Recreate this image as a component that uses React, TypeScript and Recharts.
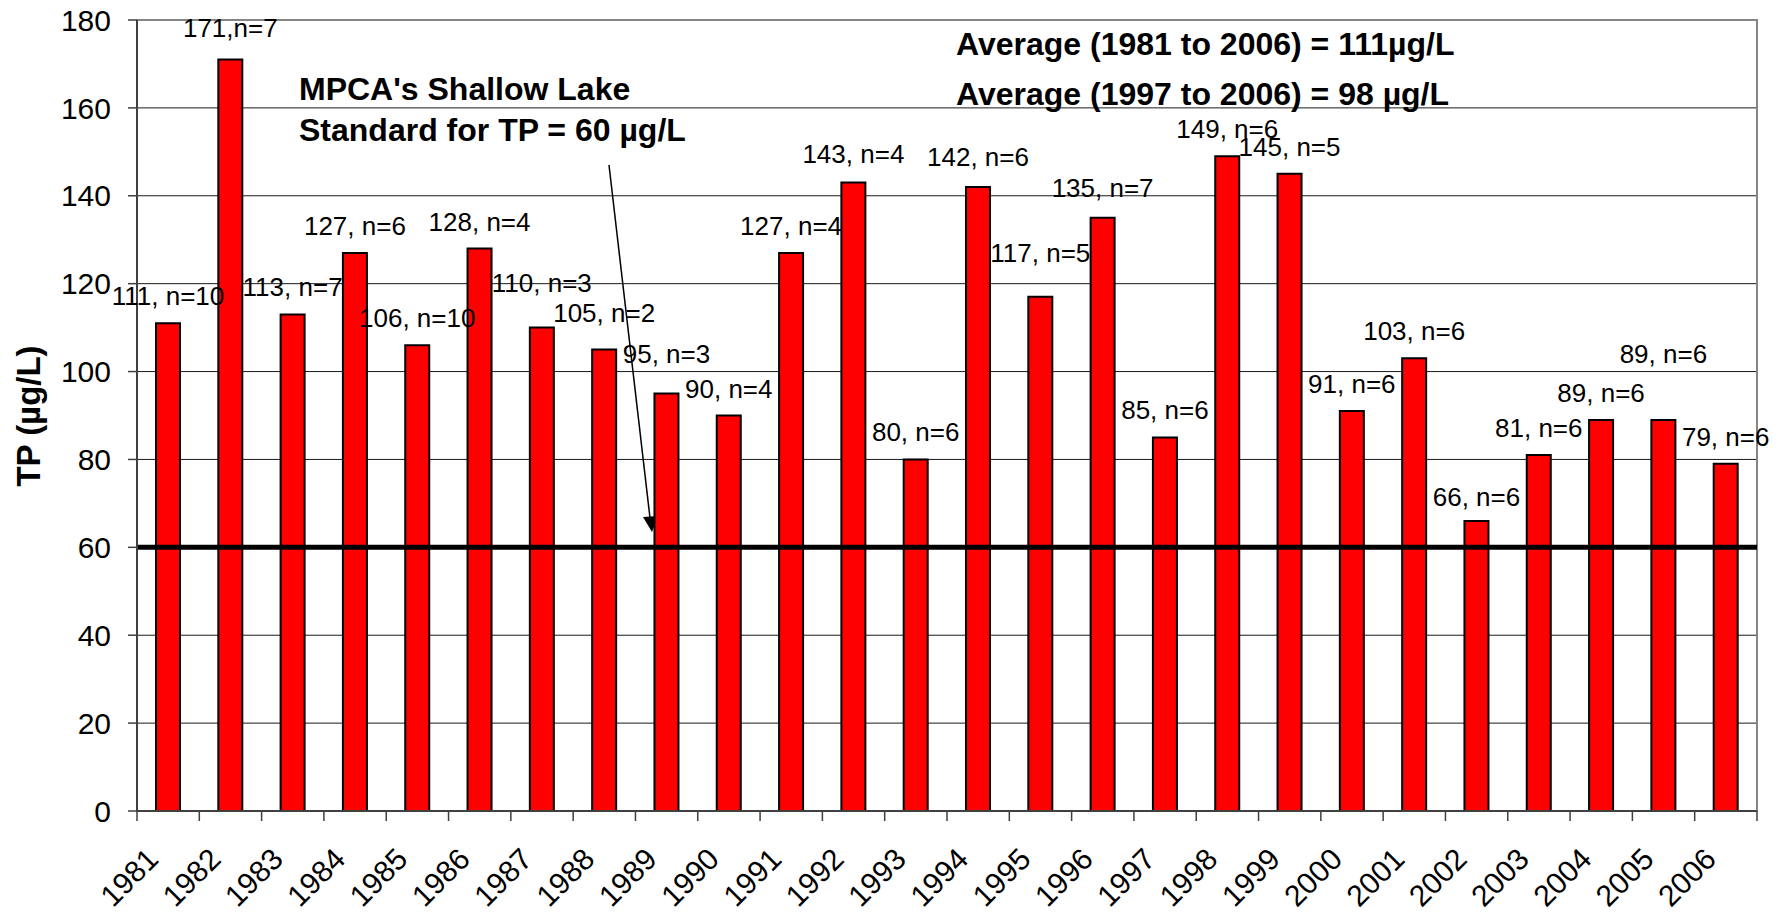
import { Bar, BarChart, CartesianGrid, Customized, LabelList, ReferenceArea, ReferenceLine, XAxis, YAxis } from 'recharts';

const years = [
  '1981', '1982', '1983', '1984', '1985', '1986', '1987', '1988', '1989', '1990', '1991', '1992', '1993',
  '1994', '1995', '1996', '1997', '1998', '1999', '2000', '2001', '2002', '2003', '2004', '2005', '2006',
];
const tpMeans = [111, 171, 113, 127, 106, 128, 110, 105, 95, 90, 127, 143, 80, 142, 117, 135, 85, 149, 145, 91, 103, 66, 81, 89, 89, 79];
const sampleTags = [
  '111, n=10', '171,n=7', '113, n=7', '127, n=6', '106, n=10', '128, n=4', '110, n=3', '105, n=2', '95, n=3',
  '90, n=4', '127, n=4', '143, n=4', '80, n=6', '142, n=6', '117, n=5', '135, n=7', '85, n=6', '149, n=6',
  '145, n=5', '91, n=6', '103, n=6', '66, n=6', '81, n=6', '89, n=6', '89, n=6', '79, n=6',
];
const yTicks = [0, 20, 40, 60, 80, 100, 120, 140, 160, 180];
const standardTP = 60;

// extra lift (px) for the labels that were dragged away from their bars
const tagLift = [0, 5, 0, 0, 0, 0, 18, 10, 13, 0, 0, 2, 0, 3, 17, 3, 0, 0, 0, 0, 0, -3, 0, 0, 39, 0];

const W = 1788;
const H = 915;
const M = { top: 20, right: 31, bottom: 4, left: 0 };
const Y_AXIS_W = 137;
const BAND = (W - M.left - M.right - Y_AXIS_W) / years.length;
const FONT = '"Liberation Sans", Arial, Helvetica, sans-serif';

const data = years.map((year, i) => ({ year, tp: tpMeans[i], tag: sampleTags[i] }));

function BarTag(props: any) {
  const { x, y, width, index, value } = props;
  const lift = tagLift[index] ?? 0;
  return (
    <text x={Number(x) + Number(width) / 2} y={Number(y) - 18 - lift} textAnchor="middle" fontSize={26} fill="#000" fontFamily={FONT}>
      {value}
    </text>
  );
}

function YearTick(props: any) {
  const { x, y, payload, index } = props;
  const half = BAND / 2;
  const tx = x - 8;
  const ty = y + 50;
  return (
    <g>
      <line x1={x - half} x2={x - half} y1={y} y2={y + 10} stroke="#404040" strokeWidth={1.5} />
      {index === years.length - 1 && (
        <line x1={x + half} x2={x + half} y1={y} y2={y + 10} stroke="#404040" strokeWidth={1.5} />
      )}
      <text x={tx} y={ty} transform={`rotate(-45, ${tx}, ${ty})`} textAnchor="end" fontSize={30} fill="#000" fontFamily={FONT}>
        {payload.value}
      </text>
    </g>
  );
}

function Notes() {
  return (
    <g fontFamily={FONT} fill="#000">
      <text x={28} y={416} transform="rotate(-90, 28, 416)" textAnchor="middle" dominantBaseline="central" fontSize={33} fontWeight={700}>
        TP (µg/L)
      </text>
      <text x={956} y={55} fontSize={32} fontWeight={700}>Average (1981 to 2006) = 111µg/L</text>
      <text x={956} y={105} fontSize={32} fontWeight={700}>Average (1997 to 2006) = 98 µg/L</text>
      <text x={299} y={100} fontSize={32} fontWeight={700}>MPCA's Shallow Lake</text>
      <text x={299} y={141} fontSize={32} fontWeight={700}>Standard for TP = 60 µg/L</text>
      <line x1={609} y1={165} x2={650} y2={518} stroke="#000" strokeWidth={1.5} />
      <polygon points="643,517 658,516 652,532" fill="#000" />
    </g>
  );
}

export default function App() {
  return (
    <div style={{ position: 'absolute', left: 0, top: 0, width: W, height: H, background: '#fff', fontFamily: FONT }}>
      <BarChart width={W} height={H} data={data} margin={M}>
        <CartesianGrid vertical={false} stroke="#1a1a1a" strokeWidth={1} />
        <ReferenceArea y1={0} y2={180} fill="none" stroke="#858585" strokeWidth={2} ifOverflow="visible" />
        <XAxis
          dataKey="year"
          interval={0}
          height={100}
          tickSize={0}
          tickMargin={0}
          tickLine={false}
          axisLine={{ stroke: '#404040', strokeWidth: 2 }}
          tick={<YearTick />}
        />
        <YAxis
          width={Y_AXIS_W}
          domain={[0, 180]}
          ticks={yTicks}
          interval={0}
          tickSize={9}
          tickMargin={17}
          axisLine={{ stroke: '#404040', strokeWidth: 2 }}
          tickLine={{ stroke: '#404040', strokeWidth: 1.5 }}
          tick={{ fill: '#000', fontSize: 30, fontFamily: FONT }}
        />
        <Bar dataKey="tp" fill="#ff0000" stroke="#000" strokeWidth={2} barSize={24} isAnimationActive={false}>
          <LabelList dataKey="tag" content={<BarTag />} />
        </Bar>
        <ReferenceLine y={standardTP} stroke="#000" strokeWidth={5} />
        <Customized component={<Notes />} />
      </BarChart>
    </div>
  );
}
